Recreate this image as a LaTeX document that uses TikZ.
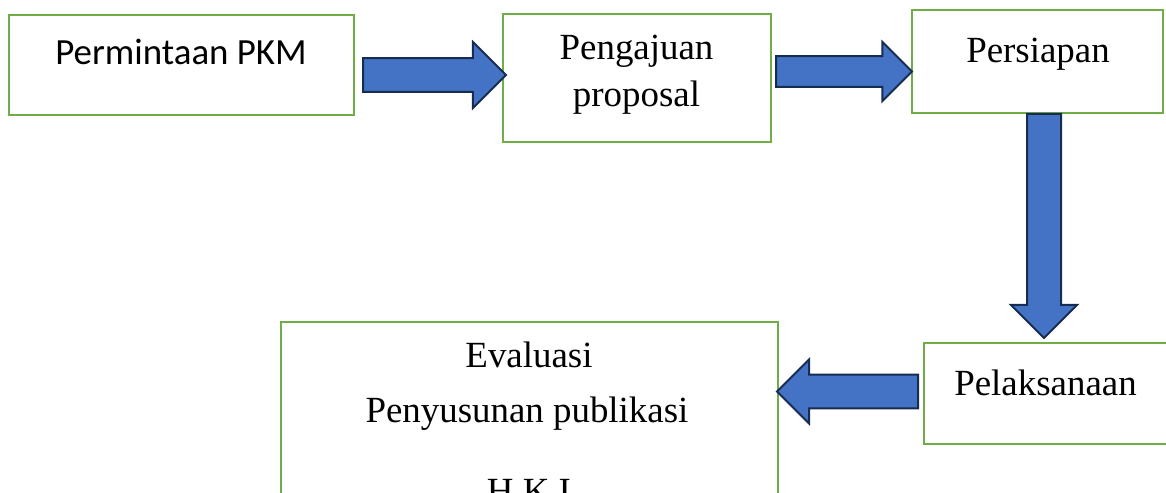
\documentclass[tikz,border=0pt]{standalone}
\usepackage{fontspec}
\setmainfont{Liberation Serif}
\newfontfamily\calibrifont{Carlito}
\usetikzlibrary{shapes.arrows}
\definecolor{boxgreen}{HTML}{70AD47}
\definecolor{arrowblue}{HTML}{4472C4}
\definecolor{arrowline}{HTML}{172C51}

\tikzset{
  stepbox/.style={draw=boxgreen, line width=0.04cm, inner sep=0pt, fill=white},
  bigarrow/.style={single arrow, draw=arrowline, fill=arrowblue, line width=0.04cm, inner sep=0pt, anchor=tail},
  boxtext/.style={anchor=base, inner sep=0pt, font=\fontsize{21}{25}\selectfont},
  sanstext/.style={anchor=base, inner sep=0pt, font=\calibrifont\fontsize{21}{25}\selectfont}
}

\begin{document}
\begin{tikzpicture}[x=0.02cm, y=-0.02cm]

    \useasboundingbox (0,0) rectangle (1166,493);

    \node[stepbox, minimum width=6.9cm, minimum height=2cm] (permintaan) at (181.5,65) {};
    \node[sanstext] (t-permintaan) at (181,65) {Permintaan PKM};

    \node[stepbox, minimum width=5.36cm, minimum height=2.56cm] (pengajuan) at (637,78) {};
    \node[boxtext] (t-pengajuan) at (636.5,60) {Pengajuan};
    \node[boxtext] (t-proposal) at (636.5,107) {proposal};

    \node[stepbox, minimum width=5.02cm, minimum height=2.06cm] (persiapan) at (1037.5,61.5) {};
    \node[boxtext] (t-persiapan) at (1038,63) {Persiapan};

    \node[stepbox, minimum width=4.86cm, minimum height=2.02cm] (pelaksanaan) at (1045.5,393.5) {};
    \node[boxtext] (t-pelaksanaan) at (1045.5,395) {Pelaksanaan};

    \node[stepbox, minimum width=9.94cm, minimum height=4.76cm] (evaluasi) at (529.5,441) {};
    \node[boxtext] (t-evaluasi) at (529,367) {Evaluasi};
    \node[boxtext] (t-publikasi) at (527,422) {Penyusunan publikasi};
    \node[boxtext] (t-hki) at (529,503) {H.K.I};

    \node[bigarrow, minimum height=2.86cm, inner ysep=0.32cm, single arrow head extend=0.32cm] (arrow1) at (362,75) {};
    \node[bigarrow, minimum height=2.72cm, inner ysep=0.29cm, single arrow head extend=0.28cm] (arrow2) at (775,71.5) {};
    \node[bigarrow, minimum height=4.48cm, inner xsep=0.32cm, single arrow head extend=0.32cm, shape border rotate=270] (arrow3) at (1044,113) {};
    \node[bigarrow, minimum height=2.82cm, inner ysep=0.32cm, single arrow head extend=0.3cm, shape border rotate=180] (arrow4) at (919,391.5) {};

\end{tikzpicture}
\end{document}
